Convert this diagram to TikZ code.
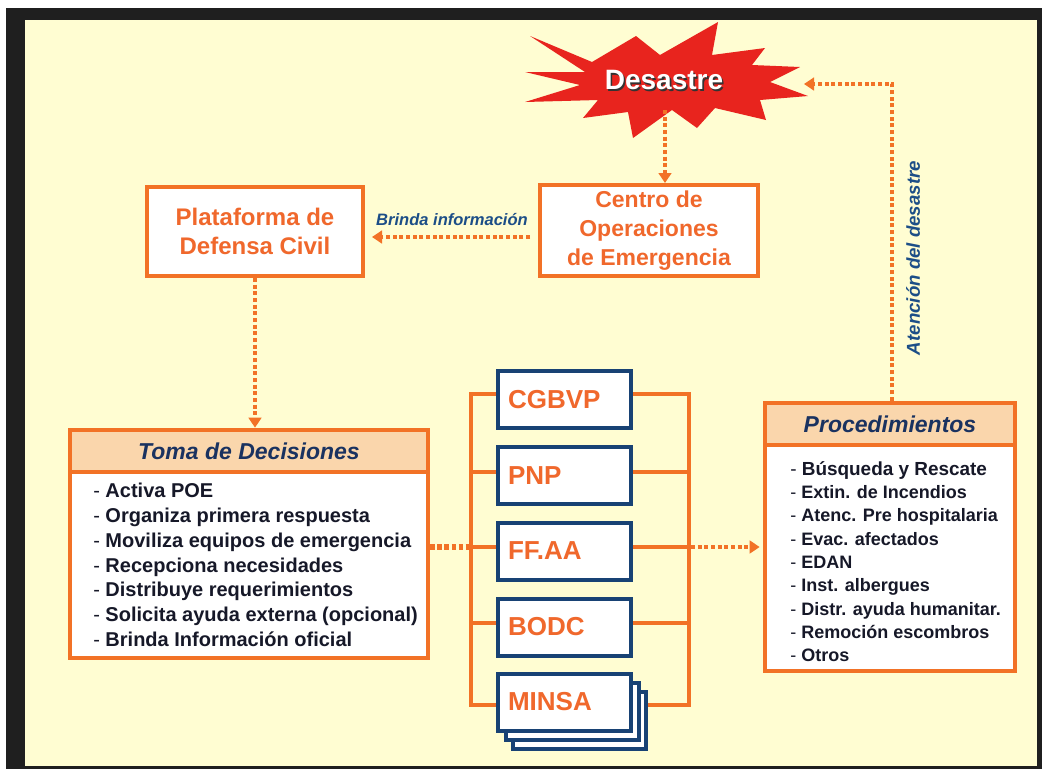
\documentclass[tikz,border=0pt]{standalone}
\usepackage{fontspec}
\setmainfont{Liberation Sans}
\usetikzlibrary{arrows.meta,calc}
\definecolor{orng}{RGB}{242,114,38}
\definecolor{orngtxt}{RGB}{240,104,44}
\definecolor{navy}{RGB}{24,66,116}
\definecolor{lblue}{RGB}{28,78,135}
\definecolor{hdrtxt}{RGB}{26,50,96}
\definecolor{bodytxt}{RGB}{22,24,40}
\definecolor{peach}{RGB}{250,214,172}
\definecolor{cream}{RGB}{255,253,210}
\definecolor{burst}{RGB}{232,36,30}
\newcommand\dashitem{{\mdseries -}~}
\begin{document}
\begin{tikzpicture}[x=0.75pt,y=-0.75pt,
  obox/.style={draw=orng, line width=3pt, fill=white, inner sep=0pt, text=orngtxt,
    font=\bfseries\fontsize{17.25}{21.75}\selectfont, align=center},
  lbox/.style={draw=orng, line width=3.5pt, fill=white, inner sep=0pt},
  hbox/.style={draw=orng, line width=3.5pt, fill=peach, inner sep=0pt, text=hdrtxt,
    font=\bfseries\itshape\fontsize{17.25}{20}\selectfont},
  nbox/.style={draw=navy, line width=3pt, fill=white, minimum width=99.75pt,
    minimum height=42.75pt, text width=84.75pt, inner xsep=7.5pt, inner ysep=0pt,
    align=left, text=orngtxt, font=\bfseries\fontsize{19.5}{22}\selectfont},
  nback/.style={draw=navy, line width=3pt, fill=white, minimum width=99.75pt,
    minimum height=42.75pt, inner sep=0pt},
  listtxt/.style={text=bodytxt, align=left, inner sep=0pt, anchor=north west},
  dotarrow/.style={draw=orng, line width=3pt, dash pattern=on 3pt off 2pt,
    -{Triangle[length=7.5pt,width=9.5pt]}},
  thickdots/.style={draw=orng, line width=4.5pt, dash pattern=on 3.5pt off 1.8pt},
  brk/.style={draw=orng, line width=3pt, line join=miter},
  lbl/.style={text=lblue, inner sep=0pt, font=\bfseries\itshape\fontsize{12.4}{14}\selectfont}
]
\useasboundingbox (0,0) rectangle (1042,769);
% frame
\fill[white] (0,0) rectangle (1042,769);
\fill[black!88] (6,8) rectangle (1042,769);
\fill[cream] (25,20) rectangle (1037,766);

% starburst
\fill[burst] (530,36) -- (592,62) -- (636,36) -- (660,55) -- (718,22) -- (712,55)
  -- (765,48) -- (752,65) -- (800,67) -- (770,82) -- (808,96) -- (760,100)
  -- (766,120) -- (715,108) -- (697,128) -- (672,110) -- (633,138) -- (628,112)
  -- (583,118) -- (598,100) -- (525,102) -- (580,85) -- (525,72) -- (585,72) -- cycle;
\node[text=white, inner sep=0pt, font=\bfseries\fontsize{21}{24}\selectfont] (des) at (664,81)
  {\makebox[0pt][l]{\kern1.2pt\raisebox{-1.2pt}{\textcolor{black!80}{Desastre}}}Desastre};
\coordinate (dbot) at (665,110);
\coordinate (dright) at (804,84);

% boxes top
\node[obox, minimum width=163.5pt, minimum height=68.25pt] (centro) at (649,230.5)
  {Centro de\\Operaciones\\de Emergencia};
\node[obox, minimum width=162pt, minimum height=66.75pt, font=\bfseries\fontsize{18}{21.75}\selectfont] (plat) at (255,231.5)
  {Plataforma de\\Defensa Civil};

% Toma de Decisiones
\node[lbox, minimum width=268.5pt, minimum height=171pt] (toma) at (249,544) {};
\node[hbox, minimum width=268.5pt, minimum height=31.5pt, anchor=north] (tomah) at (toma.north)
  {Toma de Decisiones};
\node[listtxt, font=\bfseries\fontsize{15}{18.6}\selectfont] (tomal) at (93,483)
  {\dashitem Activa POE\\
   \dashitem Organiza primera respuesta\\
   \dashitem Moviliza equipos de emergencia\\
   \dashitem Recepciona necesidades\\
   \dashitem Distribuye requerimientos\\
   \dashitem Solicita ayuda externa (opcional)\\
   \dashitem Brinda Información oficial};

% Procedimientos
\node[lbox, minimum width=187.5pt, minimum height=201pt] (proc) at (890,537) {};
\node[hbox, minimum width=187.5pt, minimum height=31.5pt, anchor=north] (proch) at (proc.north)
  {Procedimientos};
\node[listtxt, font=\bfseries\fontsize{13.5}{17.5}\selectfont] (procl) at (790,461)
  {{\fontsize{14.2}{17.5}\selectfont\dashitem Búsqueda y Rescate}\\
   \dashitem Extin. de Incendios\\
   \dashitem Atenc. Pre hospitalaria\\
   \dashitem Evac. afectados\\
   \dashitem EDAN\\
   \dashitem Inst. albergues\\
   \dashitem Distr. ayuda humanitar.\\
   \dashitem Remoción escombros\\
   \dashitem Otros};

% middle institutions
\node[nback] (mb2) at (579.5,720) {};
\node[nback] (mb1) at (572,711) {};
\node[nbox] (cg) at (564.5,399.5) {CGBVP};
\node[nbox] (pnp) at (564.5,475.5) {PNP};
\node[nbox] (ff) at (564.5,551) {FF.AA};
\node[nbox] (bodc) at (564.5,627) {BODC};
\node[nbox] (minsa) at (564.5,702) {MINSA};

% brackets
\draw[brk] ($(cg.west)+(0,-6)$) -- ++(-25,0) |- ($(minsa.west)+(0,3)$);
\draw[brk] ($(cg.east)+(0,-6)$) -- ++(56,0) |- ($(mb2.east)+(0,-15)$);
\foreach \n in {pnp,ff,bodc}{
  \draw[brk] ($(\n.west)+(0,-4)$) -- ++(-25,0);
  \draw[brk] ($(\n.east)+(0,-4)$) -- ++(56,0);
}

% connectors
\draw[dotarrow] (dbot) -- (dbot |- centro.north);
\draw[dotarrow] ($(centro.west)+(-8,6.5)$) -- ($(plat.east)+(7,5.5)$);
\node[lbl] (brinda) at (452,220) {Brinda información};
\draw[dotarrow] (plat.south) -- (plat.south |- toma.north);
\draw[thickdots] ($(toma.east)+(0,3)$) -- ($(ff.west)+(-25,-4)$);
\draw[dotarrow] ($(ff.east)+(58,-4)$) -- ($(proc.west)+(-3,10)$);
\draw[dotarrow] ($(proc.north)+(2,0)$) |- (dright);
\node[lbl, rotate=90, font=\bfseries\itshape\fontsize{14}{16}\selectfont] (aten) at (913,258)
  {Atención del desastre};
\end{tikzpicture}
\end{document}
